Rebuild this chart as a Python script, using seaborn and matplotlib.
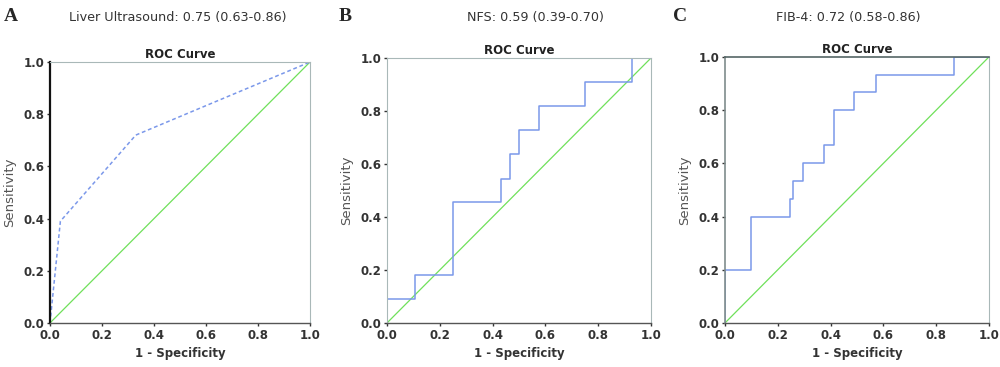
import matplotlib
matplotlib.use("Agg")
import matplotlib.pyplot as plt
import pandas as pd
import seaborn as sns

# Datos (curvas ROC)
us_fpr = [0.0, 0.04, 0.33, 1.0]
us_tpr = [0.0, 0.39, 0.72, 1.0]

nfs_fpr = [0.0, 0.0, 0.107, 0.25, 0.43, 0.467, 0.5, 0.574, 0.75, 0.928, 1.0]
nfs_tpr = [0.0, 0.091, 0.182, 0.455, 0.545, 0.636, 0.727, 0.818, 0.909, 1.0, 1.0]

fib_fpr = [0.0, 0.0, 0.098, 0.245, 0.259, 0.294, 0.375, 0.413, 0.49, 0.572, 0.869, 1.0]
fib_tpr = [0.0, 0.2, 0.4, 0.467, 0.533, 0.6, 0.667, 0.8, 0.867, 0.933, 1.0, 1.0]

diag = [0.0, 1.0]

letters = ["A", "B", "C"]
subtitles = ["Liver Ultrasound: 0.75 (0.63-0.86)",
             "NFS: 0.59 (0.39-0.70)",
             "FIB-4: 0.72 (0.58-0.86)"]
ticks = [0.0, 0.2, 0.4, 0.6, 0.8, 1.0]

sns.set_style("white")
plt.rcParams['font.family'] = ['DejaVu Sans']

blue = '#7b98ea'
green = '#6fe05a'
txt = '#333333'

fig = plt.figure(figsize=(10, 3.67), dpi=100)
positions = [[0.050, 0.120, 0.260, 0.711],
             [0.387, 0.120, 0.264, 0.722],
             [0.725, 0.120, 0.264, 0.725]]
axes = [fig.add_axes(p) for p in positions]

curves = [(us_fpr, us_tpr, False), (nfs_fpr, nfs_tpr, True), (fib_fpr, fib_tpr, True)]

for i, ax in enumerate(axes):
    fpr, tpr, steps = curves[i]
    df = pd.DataFrame({'fpr': fpr, 'tpr': tpr})
    sns.lineplot(x=diag, y=diag, ax=ax, color=green, linewidth=0.9, sort=False, estimator=None)
    if steps:
        sns.lineplot(data=df, x='fpr', y='tpr', ax=ax, color=blue, linewidth=1.1,
                     sort=False, estimator=None, drawstyle='steps-post')
    else:
        sns.lineplot(data=df, x='fpr', y='tpr', ax=ax, color=blue, linewidth=1.1,
                     sort=False, estimator=None, linestyle=(0, (2.5, 1.8)))
    ax.set_xlim(0, 1)
    ax.set_ylim(0, 1)
    ax.set_xticks(ticks)
    ax.set_yticks(ticks)
    ax.set_xticklabels([f"{t:.1f}" for t in ticks], fontsize=8.5, fontweight='bold', color=txt)
    ax.set_yticklabels([f"{t:.1f}" for t in ticks], fontsize=8.5, fontweight='bold', color=txt)
    ax.tick_params(axis='both', length=2, width=1, pad=2, color=txt, bottom=True, left=True)
    ax.set_xlabel("1 - Specificity", fontsize=8.5, fontweight='bold', color=txt, labelpad=4)
    ax.set_ylabel("Sensitivity", fontsize=9.5, color='#555555', labelpad=5)
    ax.set_title("ROC Curve", fontsize=8.5, fontweight='bold', color='#222222', pad=3)
    for s in ax.spines.values():
        s.set_color('#a9b8b8')
        s.set_linewidth(0.8)
    ax.spines['bottom'].set_color('#555555')
    ax.spines['bottom'].set_linewidth(1.0)

axes[0].spines['left'].set_color('#111111')
axes[0].spines['left'].set_linewidth(1.6)
axes[2].spines['left'].set_color('#7f8c8c')
axes[2].spines['left'].set_linewidth(1.2)
axes[2].spines['top'].set_color('#556666')
axes[2].spines['top'].set_linewidth(1.2)

letter_x = [0.004, 0.339, 0.673]
sub_x = [0.178, 0.535, 0.848]
for lx, sx, let, sub in zip(letter_x, sub_x, letters, subtitles):
    fig.text(lx, 0.955, let, fontsize=14, fontweight='bold', family='Liberation Serif',
             ha='left', va='center')
    fig.text(sx, 0.953, sub, fontsize=9.2, ha='center', va='center', color=txt)

fig.savefig("out.png", dpi=100)
